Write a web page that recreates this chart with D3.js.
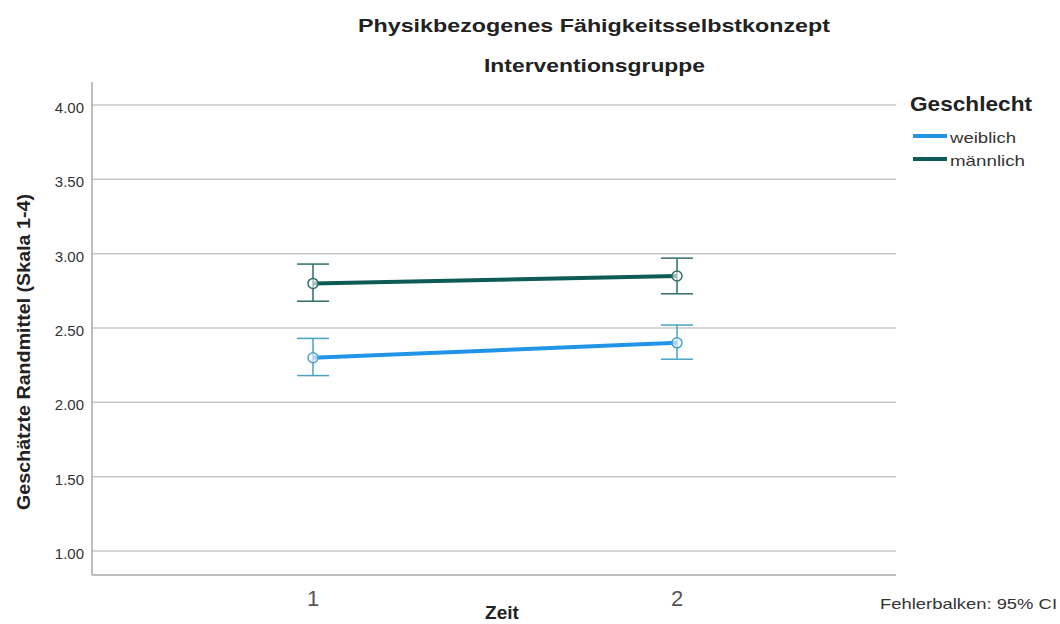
<!DOCTYPE html>
<html><head><meta charset="utf-8">
<script src="https://cdn.jsdelivr.net/npm/d3@7"></script>
<style>body{margin:0;background:#fff;}svg{display:block;font-family:"Liberation Sans",Arial,sans-serif;}</style>
</head><body>
<svg id="c" width="1060" height="624"></svg>
<script>
const times = ["1","2"];
const groups = ["weiblich","männlich"];
const weiblichMean = [2.30, 2.40];
const weiblichLow = [2.18, 2.29];
const weiblichHigh = [2.43, 2.52];
const maennlichMean = [2.80, 2.85];
const maennlichLow = [2.68, 2.73];
const maennlichHigh = [2.93, 2.97];
const yTicks = [1.0, 1.5, 2.0, 2.5, 3.0, 3.5, 4.0];

(function(){
const svg = d3.select("#c");
const pLeft = 92, pRight = 896, pTop = 82, pBottom = 575;
const y = d3.scaleLinear().domain([1, 4]).range([551, 105]);
const yTopV = y.invert(pTop), yBotV = y.invert(pBottom);
const yS = d3.scaleLinear().domain([yBotV, yTopV]).range([pBottom, pTop]);
const x = d3.scalePoint().domain(times).range([313, 677]);

function stretch(sel, len) { return sel.attr("textLength", len).attr("lengthAdjust", "spacingAndGlyphs"); }

// gridlines
svg.append("g").selectAll("line").data(yTicks).join("line")
  .attr("x1", pLeft).attr("x2", pRight).attr("y1", d => yS(d)).attr("y2", d => yS(d))
  .attr("stroke", "#c8c8c8").attr("stroke-width", 1.5);

// axes lines
svg.append("line").attr("x1", pLeft).attr("x2", pLeft).attr("y1", pTop).attr("y2", pBottom)
  .attr("stroke", "#a9a9a9").attr("stroke-width", 1.5);
svg.append("line").attr("x1", pLeft).attr("x2", pRight).attr("y1", pBottom).attr("y2", pBottom)
  .attr("stroke", "#a9a9a9").attr("stroke-width", 1.5);

// y tick labels
svg.append("g").selectAll("text").data(yTicks).join("text")
  .attr("x", 84).attr("y", d => yS(d) + 8).attr("text-anchor", "end")
  .attr("font-size", 15).attr("fill", "#333").text(d => d3.format(".2f")(d));

// x tick labels
svg.append("g").selectAll("text").data(times).join("text")
  .attr("x", d => x(d)).attr("y", 606).attr("text-anchor", "middle")
  .attr("font-size", 22).attr("fill", "#555").text(d => d);

const series = [
  {name: groups[0], mean: weiblichMean, lo: weiblichLow, hi: weiblichHigh, color: "#2294e6", ebColor: "#4aa3c6", len: 66},
  {name: groups[1], mean: maennlichMean, lo: maennlichLow, hi: maennlichHigh, color: "#0d5a56", ebColor: "#2f6e69", len: 75}
];

series.forEach(s => {
  const g = svg.append("g");
  const pts = times.map((t, i) => ({t, m: s.mean[i], lo: s.lo[i], hi: s.hi[i]}));
  pts.forEach(p => {
    const cx = x(p.t);
    g.append("line").attr("x1", cx).attr("x2", cx).attr("y1", yS(p.lo)).attr("y2", yS(p.hi))
      .attr("stroke", s.ebColor).attr("stroke-width", 1.5);
    [p.lo, p.hi].forEach(v => g.append("line").attr("x1", cx - 16).attr("x2", cx + 16)
      .attr("y1", yS(v)).attr("y2", yS(v)).attr("stroke", s.ebColor).attr("stroke-width", 1.5));
  });
  g.append("path").datum(pts)
    .attr("d", d3.line().x(d => x(d.t)).y(d => yS(d.m)))
    .attr("fill", "none").attr("stroke", s.color).attr("stroke-width", 4);
  g.selectAll("circle").data(pts).join("circle")
    .attr("cx", d => x(d.t)).attr("cy", d => yS(d.m)).attr("r", 5)
    .attr("fill", "#fff").attr("fill-opacity", 0.6).attr("stroke", s.ebColor).attr("stroke-width", 1.5);
});

// titles
stretch(svg.append("text").attr("x", 358).attr("y", 32)
  .attr("font-size", 18.5).attr("font-weight", "bold").attr("fill", "#222").text("Physikbezogenes Fähigkeitsselbstkonzept"), 472);
stretch(svg.append("text").attr("x", 484).attr("y", 72)
  .attr("font-size", 18.5).attr("font-weight", "bold").attr("fill", "#222").text("Interventionsgruppe"), 221);

// axis titles
stretch(svg.append("text").attr("transform", "translate(30,510) rotate(-90)")
  .attr("font-size", 19).attr("font-weight", "bold").attr("fill", "#222").text("Geschätzte Randmittel (Skala 1-4)"), 316);
svg.append("text").attr("x", 502).attr("y", 619).attr("text-anchor", "middle")
  .attr("font-size", 19).attr("font-weight", "bold").attr("fill", "#222").text("Zeit");

// legend
stretch(svg.append("text").attr("x", 910).attr("y", 111).attr("font-size", 21).attr("font-weight", "bold")
  .attr("fill", "#222").text("Geschlecht"), 122);
series.forEach((s, i) => {
  const ly = 136 + i * 23;
  svg.append("line").attr("x1", 913).attr("x2", 947).attr("y1", ly).attr("y2", ly)
    .attr("stroke", s.color).attr("stroke-width", 4);
  stretch(svg.append("text").attr("x", 950).attr("y", ly + 7).attr("font-size", 15).attr("fill", "#333").text(s.name), s.len);
});

stretch(svg.append("text").attr("x", 880).attr("y", 609).attr("font-size", 15).attr("fill", "#333").text("Fehlerbalken: 95% CI"), 177);
})();
</script>
</body></html>
